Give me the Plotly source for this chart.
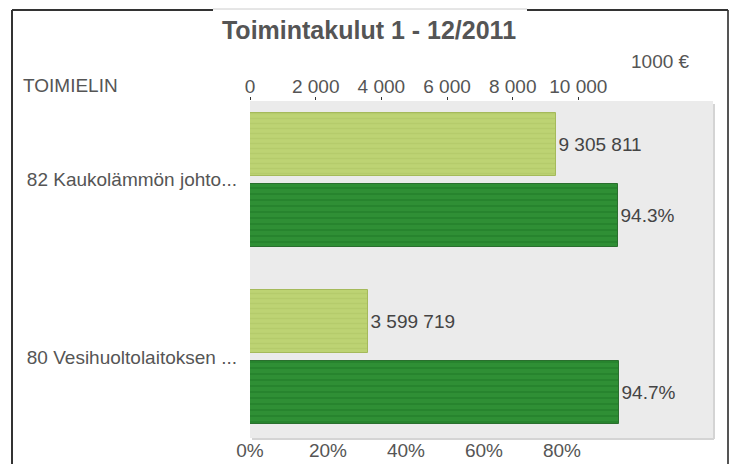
import plotly.graph_objects as go

# ---- data ----
categories = ["82 Kaukolämmön johto...", "80 Vesihuoltolaitoksen ..."]
costs_eur = [9305811, 3599719]          # toteutuneet toimintakulut, €
realization_pct = [94.3, 94.7]          # toteutuma-%
top_tick_vals = [0, 2000, 4000, 6000, 8000, 10000]
top_tick_text = ["0", "2 000", "4 000", "6 000", "8 000", "10 000"]
pct_tick_vals = [0, 20, 40, 60, 80]
pct_tick_text = ["0%", "20%", "40%", "60%", "80%"]

costs_k = [v / 1000 for v in costs_eur]
cost_labels = [f"{v:,}".replace(",", " ") for v in costs_eur]
pct_labels = [f"{v:.1f}%" for v in realization_pct]

FONT = "Liberation Sans, Arial, sans-serif"
FS = 19
W, H = 739, 464
L, R, T, B = 250, 26, 101, 26
PW, PH = W - L - R, H - T - B


def px(x):
    return (x - L) / PW


def py(y):
    return (H - B - y) / PH


fig = go.Figure()

fig.add_trace(go.Bar(
    y=categories, x=costs_k, orientation="h",
    xaxis="x2", yaxis="y",
    offset=-0.378, width=0.356,
    marker=dict(color="#bdd373",
                line=dict(color="#a5ba5b", width=1),
                pattern=dict(shape="-", fgcolor="#adc363", size=5, solidity=0.3)),
    text=cost_labels, textposition="outside",
    textfont=dict(family=FONT, size=FS, color="#444444"),
    cliponaxis=False, showlegend=False,
))

fig.add_trace(go.Bar(
    y=categories, x=realization_pct, orientation="h",
    xaxis="x", yaxis="y",
    offset=0.021, width=0.355,
    marker=dict(color="#2f8f35",
                line=dict(color="#2a6f2e", width=1),
                pattern=dict(shape="-", fgcolor="#1d7524", size=6, solidity=0.3)),
    text=pct_labels, textposition="outside",
    textfont=dict(family=FONT, size=FS, color="#444444"),
    cliponaxis=False, showlegend=False,
))

shapes = [
    # plot shadow
    dict(type="line", xref="paper", yref="paper", x0=px(714), x1=px(714), y0=py(104), y1=py(439),
         line=dict(color="#d4d4d4", width=2)),
    dict(type="line", xref="paper", yref="paper", x0=px(252), x1=px(714), y0=py(439), y1=py(439),
         line=dict(color="#d4d4d4", width=2)),
    # frame
    dict(type="line", xref="paper", yref="paper", x0=px(12), x1=px(12), y0=py(10), y1=py(470),
         line=dict(color="#333333", width=2)),
    dict(type="line", xref="paper", yref="paper", x0=px(728), x1=px(728), y0=py(10), y1=py(470),
         line=dict(color="#555555", width=2)),
    dict(type="line", xref="paper", yref="paper", x0=px(12), x1=px(213), y0=py(10), y1=py(10),
         line=dict(color="#333333", width=2)),
    dict(type="line", xref="paper", yref="paper", x0=px(213), x1=px(527), y0=py(9), y1=py(9),
         line=dict(color="#cccccc", width=1)),
    dict(type="line", xref="paper", yref="paper", x0=px(527), x1=px(728), y0=py(10), y1=py(10),
         line=dict(color="#333333", width=2)),
]

annotations = [
    dict(text="TOIMIELIN", xref="paper", yref="paper", x=px(21), y=py(86),
         xanchor="left", yanchor="middle", showarrow=False,
         font=dict(family=FONT, size=FS, color="#555555")),
    dict(text="1000 €", xref="paper", yref="paper", x=px(692), y=py(62),
         xanchor="right", yanchor="middle", showarrow=False,
         font=dict(family=FONT, size=FS, color="#555555")),
]

fig.update_layout(
    width=W, height=H,
    margin=dict(l=L, r=R, t=T, b=B, autoexpand=False),
    paper_bgcolor="white", plot_bgcolor="#ebebeb",
    font=dict(family=FONT, color="#555555"),
    title=dict(text="<b>Toimintakulut 1 - 12/2011</b>", x=px(369), xref="paper", xanchor="center",
               y=1 - 30 / H, yanchor="middle",
               font=dict(family=FONT, size=25, color="#555555")),
    xaxis=dict(range=[0, PW / 3.9], tickvals=pct_tick_vals, ticktext=pct_tick_text,
               showgrid=False, zeroline=False, showline=False, automargin=False,
               ticks="", ticklabelstandoff=-1,
               tickfont=dict(family=FONT, size=FS, color="#555555")),
    xaxis2=dict(range=[0, 14100], overlaying="x", side="top",
                tickvals=top_tick_vals, ticktext=top_tick_text,
                showgrid=False, zeroline=False, showline=False, automargin=False,
                ticks="outside", ticklen=3, tickcolor="#333333", ticklabelstandoff=-4,
                tickfont=dict(family=FONT, size=FS, color="#555555")),
    yaxis=dict(type="category", categoryorder="array", categoryarray=categories,
               range=[1.455, -0.444], showgrid=False, zeroline=False, showline=False,
               ticks="", ticklabelstandoff=12, automargin=False,
               tickfont=dict(family=FONT, size=FS, color="#555555")),
    shapes=shapes, annotations=annotations,
    bargap=0,
)

fig.write_html("out.html", config={"displayModeBar": False},
               post_script="document.body.style.margin='0px';")
